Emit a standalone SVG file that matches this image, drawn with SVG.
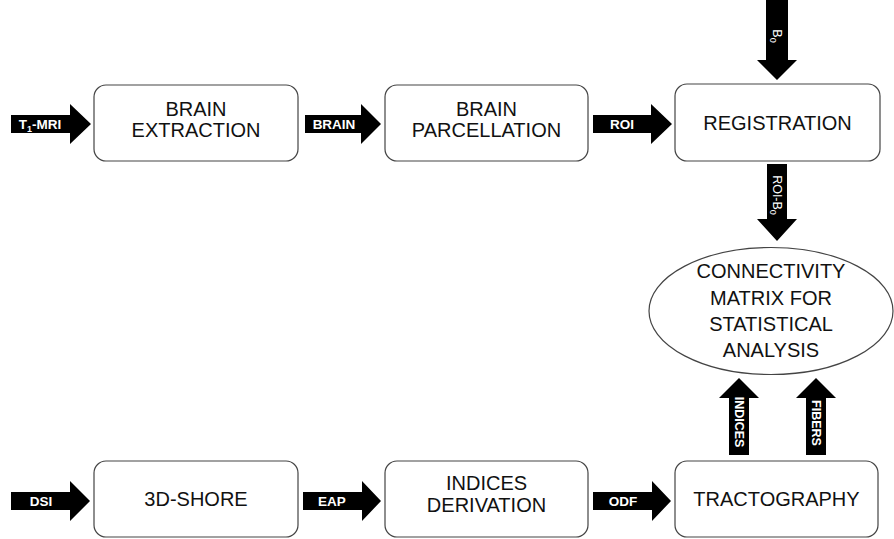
<svg xmlns="http://www.w3.org/2000/svg" width="894" height="539" viewBox="0 0 894 539">
<style>
.box{fill:#fff;stroke:#444;stroke-width:1.2}
.bt{font-family:"Liberation Sans",Arial,sans-serif;font-size:20px;fill:#111;text-anchor:middle}
.ar{fill:#000}
.al{font-family:"Liberation Sans",Arial,sans-serif;font-weight:bold;font-size:13.5px;fill:#fff;text-anchor:middle}
.vl{font-family:"Liberation Sans",Arial,sans-serif;font-weight:bold;font-size:12.5px;fill:#fff;text-anchor:middle}
.vr{font-family:"Liberation Sans",Arial,sans-serif;font-size:12.5px;fill:#fff;text-anchor:middle}
</style>
<rect width="894" height="539" fill="#fff"/>
<g id="connectors">
  <g id="a-t1">
    <polygon class="ar" points="11,115 70,115 70,104 91,124 70,144 70,133 11,133"/>
    <text class="al" x="40" y="129">T<tspan font-size="9" dy="3">1</tspan><tspan dy="-3">-MRI</tspan></text>
  </g>
  <g id="a-brain">
    <polygon class="ar" points="305,115 361,115 361,104 381,124 361,144 361,133 305,133"/>
    <text class="al" x="334" y="129">BRAIN</text>
  </g>
  <g id="a-roi">
    <polygon class="ar" points="593,115 651,115 651,104 672,124 651,144 651,133 593,133"/>
    <text class="al" x="622" y="129">ROI</text>
  </g>
  <g id="a-b0">
    <polygon class="ar" points="766,0 788,0 788,60 797,60 777,80 757,60 766,60"/>
    <text class="vr" transform="translate(777,36) rotate(90)" x="0" y="4.5">B<tspan font-size="9" dy="3">0</tspan></text>
  </g>
  <g id="a-roib0">
    <polygon class="ar" points="767,164 787,164 787,219 797,219 777,241 757,219 767,219"/>
    <text class="vr" transform="translate(777,195) rotate(90)" x="0" y="4.5">ROI-B<tspan font-size="9" dy="3">0</tspan></text>
  </g>
  <g id="a-indices">
    <polygon class="ar" points="729,455 749,455 749,398 759,398 739,378 719,398 729,398"/>
    <text class="vl" transform="translate(739,422) rotate(90)" x="0" y="4.5">INDICES</text>
  </g>
  <g id="a-fibers">
    <polygon class="ar" points="806,455 826,455 826,398 836,398 816,378 796,398 806,398"/>
    <text class="vl" transform="translate(816,423) rotate(90)" x="0" y="4.5">FIBERS</text>
  </g>
  <g id="a-dsi">
    <polygon class="ar" points="11,492 70,492 70,481 90,501 70,521 70,510 11,510"/>
    <text class="al" x="41" y="506">DSI</text>
  </g>
  <g id="a-eap">
    <polygon class="ar" points="303,492 362,492 362,481 381,501 362,521 362,510 303,510"/>
    <text class="al" x="332" y="506">EAP</text>
  </g>
  <g id="a-odf">
    <polygon class="ar" points="593,492 652,492 652,481 671,501 652,521 652,510 593,510"/>
    <text class="al" x="623" y="506">ODF</text>
  </g>
</g>
<g id="brain-extraction">
  <rect class="box" x="94" y="85" width="204" height="76" rx="12"/>
  <text class="bt" x="196" y="116">BRAIN</text>
  <text class="bt" x="196" y="137">EXTRACTION</text>
</g>
<g id="brain-parcellation">
  <rect class="box" x="385" y="85" width="203" height="76" rx="12"/>
  <text class="bt" x="486.5" y="116">BRAIN</text>
  <text class="bt" x="486.5" y="137">PARCELLATION</text>
</g>
<g id="registration">
  <rect class="box" x="675" y="84" width="205" height="77" rx="12"/>
  <text class="bt" x="777.5" y="130">REGISTRATION</text>
</g>
<g id="connectivity">
  <ellipse cx="771" cy="311" rx="122" ry="63.5" fill="#fff" stroke="#444" stroke-width="1.2"/>
  <text class="bt" x="771" y="278">CONNECTIVITY</text>
  <text class="bt" x="771" y="305">MATRIX FOR</text>
  <text class="bt" x="771" y="331">STATISTICAL</text>
  <text class="bt" x="771" y="357">ANALYSIS</text>
</g>
<g id="shore">
  <rect class="box" x="94" y="461" width="204" height="76" rx="12"/>
  <text class="bt" x="196" y="506">3D-SHORE</text>
</g>
<g id="indices-derivation">
  <rect class="box" x="385" y="461" width="203" height="76" rx="12"/>
  <text class="bt" x="486.5" y="490">INDICES</text>
  <text class="bt" x="486.5" y="512">DERIVATION</text>
</g>
<g id="tractography">
  <rect class="box" x="675" y="461" width="203" height="76" rx="12"/>
  <text class="bt" x="776.5" y="506">TRACTOGRAPHY</text>
</g>
</svg>
